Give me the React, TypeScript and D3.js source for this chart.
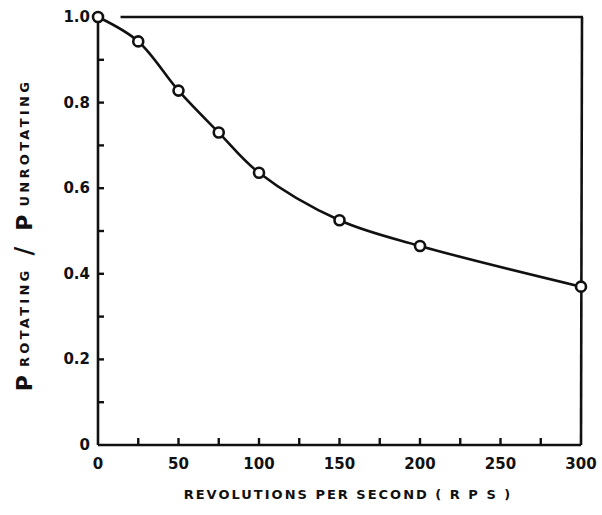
import React from "react";
import * as d3 from "d3";

const rps = [0, 25, 50, 75, 100, 150, 200, 300];
const ratio = [1.0, 0.943, 0.828, 0.73, 0.636, 0.525, 0.465, 0.37];
const xTickLabels = [0, 50, 100, 150, 200, 250, 300];
const xMinorTicks = [25, 50, 75, 100, 125, 150, 175, 200, 225, 250, 275];
const yTickLabels = ["0", "0.2", "0.4", "0.6", "0.8", "1.0"];
const yTickValues = [0, 0.2, 0.4, 0.6, 0.8, 1.0];
const yMinorTicks = [0.1, 0.2, 0.3, 0.4, 0.5, 0.6, 0.7, 0.8, 0.9];

const W = 602, H = 515;
const FONT = "'DejaVu Sans', 'Liberation Sans', sans-serif";

export default function App() {
  const x = d3.scaleLinear().domain([0, 300]).range([98, 581]);
  const y = d3.scaleLinear().domain([0, 1]).range([445, 17]);
  const line = d3
    .line<number>()
    .x((_, i) => x(rps[i]))
    .y((d) => y(d))
    .curve(d3.curveCatmullRom.alpha(0.5));

  return (
    <svg width={W} height={H} style={{ position: "absolute", left: 0, top: 0, background: "#fff" }}>
      <rect x={0} y={0} width={W} height={H} fill="#fff" />
      {/* frame */}
      <g stroke="#111" strokeWidth={2.6} fill="none">
        <line x1={x(0)} y1={y(0)} x2={x(300)} y2={y(0)} />
        <line x1={x(0)} y1={y(0)} x2={x(0)} y2={y(1)} />
        <line x1={x(14)} y1={y(1)} x2={x(300) + 2} y2={y(1)} />
        <line x1={x(300) + 1} y1={y(1)} x2={x(300)} y2={y(0)} />
      </g>
      {/* ticks */}
      <g stroke="#111" strokeWidth={2.4}>
        {xMinorTicks.map((t) => (
          <line key={t} x1={x(t)} x2={x(t)} y1={y(0)} y2={y(0) - 7} />
        ))}
        {yMinorTicks.map((t) => (
          <line key={t} x1={x(0)} x2={x(0) + 6} y1={y(t)} y2={y(t)} />
        ))}
      </g>
      {/* tick labels */}
      <g fontFamily={FONT} fontWeight="bold" fontSize={15} textAnchor="middle" fill="#111">
        {xTickLabels.map((t) => (
          <text key={t} x={x(t)} y={y(0) + 24}>{t}</text>
        ))}
      </g>
      <g fontFamily={FONT} fontWeight="bold" fontSize={15} textAnchor="end" fill="#111">
        {yTickValues.map((t, i) => (
          <text key={t} x={x(0) - 8} y={y(t) + 5}>{yTickLabels[i]}</text>
        ))}
      </g>
      {/* curve */}
      <path d={line(ratio) || ""} fill="none" stroke="#111" strokeWidth={2.6} />
      {ratio.map((v, i) => (
        <circle key={i} cx={x(rps[i])} cy={y(v)} r={5} fill="#fff" stroke="#111" strokeWidth={2.6} />
      ))}
      {/* x axis title */}
      <text x={348} y={499} textAnchor="middle" fontFamily={FONT} fontWeight="bold" fontSize={13} letterSpacing={2} fill="#111">
        REVOLUTIONS  PER  SECOND  ( R P S )
      </text>
      {/* y axis title */}
      <text transform={`translate(32, 235) rotate(-90)`} textAnchor="middle" fontFamily={FONT} fontWeight="bold" fill="#111">
        <tspan fontSize={22}>P</tspan>
        <tspan fontSize={13} letterSpacing={3.3} dx={8} dy={-3}>ROTATING</tspan>
        <tspan fontSize={24} dx={12} dy={3}>/</tspan>
        <tspan fontSize={22} dx={16}>P</tspan>
        <tspan fontSize={13} letterSpacing={3.3} dx={8} dy={-3}>UNROTATING</tspan>
      </text>
    </svg>
  );
}
